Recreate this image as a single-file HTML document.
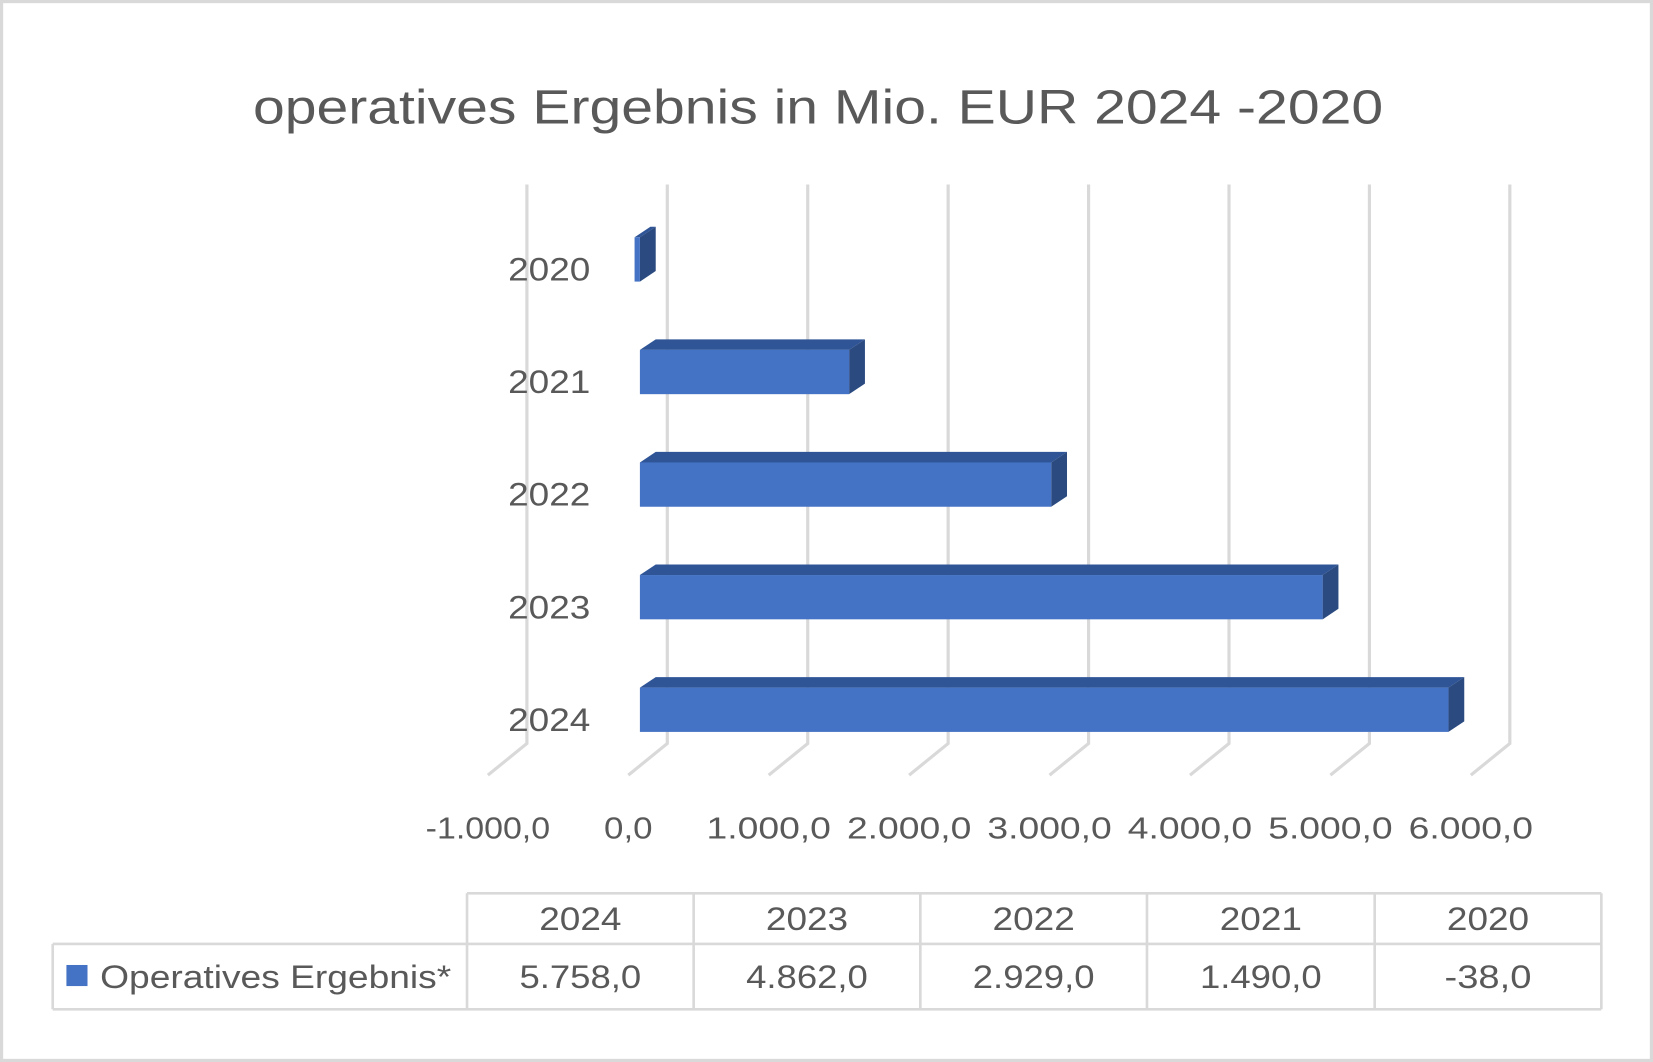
<!DOCTYPE html>
<html><head><meta charset="utf-8"><style>
html,body{margin:0;padding:0;background:#fff;}
svg{display:block;font-family:"Liberation Sans",sans-serif;}
</style></head><body>
<svg id="chart" width="1653" height="1062" viewBox="0 0 1568 1007" preserveAspectRatio="none">
<rect x="1.5" y="1.5" width="1565" height="1004" fill="#fff" stroke="#d9d9d9" stroke-width="3"/>
<text x="776" y="117" text-anchor="middle" font-size="46" fill="#595959" textLength="1072" lengthAdjust="spacingAndGlyphs">operatives Ergebnis in Mio. EUR 2024 -2020</text>
<g id="grid"></g><g id="bars"></g><g id="labels"></g><g id="table"></g>
</svg>
<script>
const categories = ["2024","2023","2022","2021","2020"];
const values = [5758, 4862, 2929, 1490, -38];
const valueLabels = ["5.758,0","4.862,0","2.929,0","1.490,0","-38,0"];
const ticks = [-1000,0,1000,2000,3000,4000,5000,6000];
const tickLabels = ["-1.000,0","0,0","1.000,0","2.000,0","3.000,0","4.000,0","5.000,0","6.000,0"];
const NS="http://www.w3.org/2000/svg";
function mk(tag, attrs, parent){const e=document.createElementNS(NS,tag);for(const k in attrs)e.setAttribute(k,attrs[k]);parent.appendChild(e);return e;}
const scale=133.2/1000;
function xFront(v){return 607+v*scale;}
function xBack(v){return 633+v*scale;}
function yCat(i){return 673-i*106.75;}
const grid=document.getElementById('grid'), bars=document.getElementById('bars'), labels=document.getElementById('labels'), table=document.getElementById('table');
ticks.forEach((t,i)=>{
  const xb=xBack(t);
  const g=mk('polyline',{points:`${xb},175 ${xb},705 ${xb-37},735`,fill:'none',stroke:'#d9d9d9','stroke-width':3},grid);
  
  
  const tx=mk('text',{x:xb-37,y:795,'text-anchor':'middle','font-size':29,fill:'#595959',textLength:tickLabels[i].length>4?118:46,lengthAdjust:'spacingAndGlyphs'},labels);
  tx.textContent=tickLabels[i];
  
  
});
categories.forEach((c,i)=>{
  const yc=yCat(i), top=yc-21, h=42, dx=15, dy=10;
  const x0=xFront(0), x1=xFront(values[i]);
  const l=Math.min(x0,x1), r=Math.max(x0,x1);
  const g=mk('g',{},bars);
  
  
  mk('polygon',{points:`${l},${top} ${l+dx},${top-dy} ${r+dx},${top-dy} ${r},${top}`,fill:'#2f5597'},g);
  mk('polygon',{points:`${r},${top} ${r+dx},${top-dy} ${r+dx},${top+h-dy} ${r},${top+h}`,fill:'#2a4a80'},g);
  mk('rect',{x:l,y:top,width:r-l,height:h,fill:'#4472c4'},g);
  const t=mk('text',{x:560,y:yc+20,'text-anchor':'end','font-size':31,fill:'#595959',textLength:78,lengthAdjust:'spacingAndGlyphs'},labels);
  t.textContent=c;
  
  
});
// data table
const cols=[443,658,873,1088,1304,1519];
const st={stroke:'#d9d9d9','stroke-width':2.5,fill:'none'};
mk('polyline',Object.assign({points:`443,847 1519,847`},st),table);
mk('polyline',Object.assign({points:`50,895 1519,895`},st),table);
mk('polyline',Object.assign({points:`50,957 1519,957`},st),table);
mk('polyline',Object.assign({points:`50,895 50,957`},st),table);
cols.forEach(x=>mk('polyline',Object.assign({points:`${x},847 ${x},957`},st),table));
categories.forEach((c,i)=>{
  const cx=(cols[i]+cols[i+1])/2;
  const h=mk('text',{x:cx,y:882,'text-anchor':'middle','font-size':31,fill:'#595959',textLength:78,lengthAdjust:'spacingAndGlyphs'},table);
  h.textContent=c;
  
  
  const v=mk('text',{x:cx,y:937,'text-anchor':'middle','font-size':31,fill:'#595959'},table);
  v.textContent=valueLabels[i];
  v.setAttribute('textLength', valueLabels[i].length*16.5);
  v.setAttribute('lengthAdjust','spacingAndGlyphs');
  
  
});
</script>
<svg style="position:absolute;left:0;top:0;pointer-events:none" width="1653" height="1062" viewBox="0 0 1568 1007" preserveAspectRatio="none">
<g>
<rect x="63" y="915" width="20" height="20" fill="#4472c4"/>
<text x="95" y="937" font-family="Liberation Sans, sans-serif" font-size="31" fill="#595959" textLength="333" lengthAdjust="spacingAndGlyphs">Operatives Ergebnis*</text>
</g>
</svg>
</body></html>
